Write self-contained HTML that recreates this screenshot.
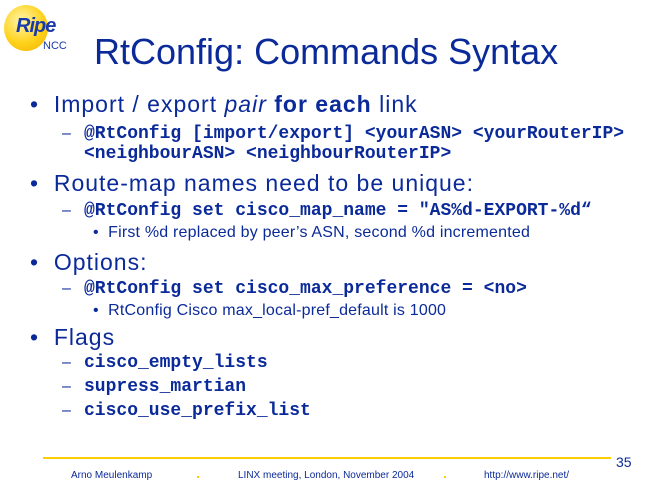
<!DOCTYPE html>
<html><head><meta charset="utf-8"><style>
body{margin:0;width:650px;height:488px;background:#fff;position:relative;overflow:hidden;font-family:"Liberation Sans",sans-serif;color:#0b2a99}
.a{position:absolute;white-space:nowrap;line-height:1}
.m{font-family:"Liberation Mono",monospace;font-weight:bold;font-size:18px}
.l1{font-size:23px;letter-spacing:1px}
.s{font-size:16px;letter-spacing:0.2px}
.d{font-size:16px}
.f{font-size:10px}
</style></head><body>
<div class="a" style="left:4px;top:5px;width:44px;height:46px;border-radius:50%;background:radial-gradient(circle at 40% 35%,#fff6b0,#ffd21a 55%,#f0b000)"></div>
<div class="a" style="left:16px;top:16px;font-size:20px;font-style:italic;font-weight:bold;color:#1a3aa8;letter-spacing:-1px">Ripe</div>
<div class="a" style="left:43px;top:41px;font-size:11px;color:#1a3aa8">NCC</div>
<div class="a" style="left:94px;top:34px;font-size:36px">RtConfig: Commands Syntax</div>

<div class="a l1" style="left:30px;top:93px">•&nbsp;&nbsp;Import / export <i>pair</i> <b>for each</b> link</div>
<div class="a d" style="left:62px;top:126px">–</div>
<div class="a m" style="left:84px;top:125px">@RtConfig [import/export] &lt;yourASN&gt; &lt;yourRouterIP&gt;</div>
<div class="a m" style="left:84px;top:145px">&lt;neighbourASN&gt; &lt;neighbourRouterIP&gt;</div>

<div class="a l1" style="left:30px;top:172px">•&nbsp;&nbsp;Route-map names need to be unique:</div>
<div class="a d" style="left:62px;top:203px">–</div>
<div class="a m" style="left:84px;top:202px">@RtConfig set cisco_map_name = "AS%d-EXPORT-%d“</div>
<div class="a s" style="left:93px;top:225px">•&nbsp;&nbsp;First %d replaced by peer’s ASN, second %d incremented</div>

<div class="a l1" style="left:30px;top:251px">•&nbsp;&nbsp;Options:</div>
<div class="a d" style="left:62px;top:281px">–</div>
<div class="a m" style="left:84px;top:280px">@RtConfig set cisco_max_preference = &lt;no&gt;</div>
<div class="a s" style="left:93px;top:303px">•&nbsp;&nbsp;RtConfig Cisco max_local-pref_default is 1000</div>

<div class="a l1" style="left:30px;top:326px">•&nbsp;&nbsp;Flags</div>
<div class="a d" style="left:62px;top:355px">–</div>
<div class="a m" style="left:84px;top:354px">cisco_empty_lists</div>
<div class="a d" style="left:62px;top:379px">–</div>
<div class="a m" style="left:84px;top:378px">supress_martian</div>
<div class="a d" style="left:62px;top:403px">–</div>
<div class="a m" style="left:84px;top:402px">cisco_use_prefix_list</div>

<div class="a" style="left:43px;top:457px;width:568px;height:2px;background:#ffcc00"></div>
<div class="a" style="left:616px;top:455px;font-size:14px">35</div>
<div class="a f" style="left:71px;top:471px">Arno Meulenkamp</div>
<div class="a" style="left:197px;top:476px;width:2px;height:2px;background:#ffcc00"></div>
<div class="a f" style="left:238px;top:471px">LINX meeting, London, November 2004</div>
<div class="a" style="left:444px;top:476px;width:2px;height:2px;background:#ffcc00"></div>
<div class="a f" style="left:484px;top:471px">http://www.ripe.net/</div>
</body></html>
